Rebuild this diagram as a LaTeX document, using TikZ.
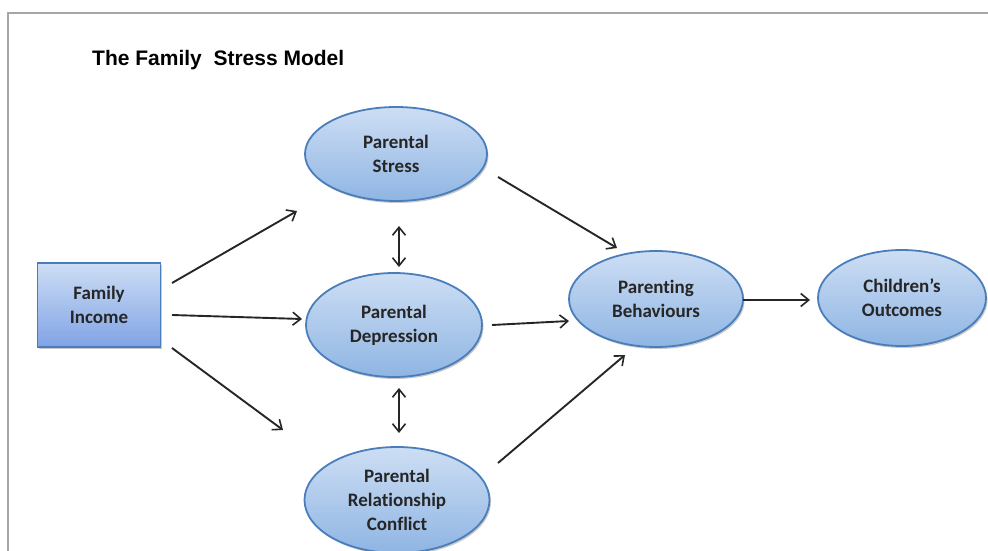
\documentclass[tikz,border=0pt]{standalone}
\usepackage{fontspec}
\setmainfont[RawFeature=-liga]{Carlito}
\newfontfamily\ttlfont{Liberation Sans}
\usepackage{tikz}
\usetikzlibrary{positioning,arrows.meta,shapes.geometric,shadows}
\definecolor{fsline}{HTML}{4A7EBB}
\definecolor{fstop}{HTML}{CDDEF4}
\definecolor{fsbot}{HTML}{8FB5E3}
\definecolor{fsarrow}{HTML}{262626}
\definecolor{fsframe}{HTML}{A6A6A6}
\tikzset{
  >={Straight Barb[length=8pt,width=13pt,line width=1.6pt]},
  fsshadow/.style={drop shadow={shadow xshift=1.5pt,shadow yshift=-2pt,
    opacity=0.3,fill=black!70}},
  factor/.style={ellipse,draw=fsline,line width=1.8pt,top color=fstop,
    bottom color=fsbot,inner sep=0pt,align=center,fsshadow,
    font=\bfseries\fontsize{19}{24}\selectfont,text=black!85},
  incbox/.style={rectangle,draw=fsline,line width=1.8pt,top color=fstop,
    bottom color=fsbot!90!blue,inner sep=0pt,align=center,fsshadow,
    minimum width=123pt,minimum height=84pt,
    font=\bfseries\fontsize{19}{24}\selectfont,text=black!85},
  flow/.style={->,line width=1.9pt,draw=fsarrow},
  biflow/.style={<->,line width=1.9pt,draw=fsarrow},
  ttl/.style={font=\ttlfont\bfseries\fontsize{21}{24}\selectfont,anchor=west,
    inner sep=0pt},
}
\begin{document}
\begin{tikzpicture}[x=1pt,y=-1pt]
  \useasboundingbox (0,0) rectangle (988,551);
  % frame of the page
  \draw[fsframe,line width=1.4pt] (988,13) -- (8,13) -- (8,551);
  \node[ttl] (title) at (92,60) {The Family\ \ Stress Model};

  \node[incbox] (fi) at (99,305) {Family\\Income};
  \node[factor,minimum width=182pt,minimum height=94pt] (ps) at (396,154) {Parental\\Stress};
  \node[factor,minimum width=176pt,minimum height=104pt] (pd) at (394,325) {Parental\\Depression};
  \node[factor,minimum width=185pt,minimum height=106pt] (pc) at (397,500) {Parental\\Relationship\\Conflict};
  \node[factor,minimum width=174pt,minimum height=96pt] (pb) at (656,299) {Parenting\\Behaviours};
  \node[factor,minimum width=168pt,minimum height=96pt] (co) at (902,298) {Children’s\\Outcomes};

  % income to the three parental factors
  \draw[flow] ([shift={(73,-22)}]fi.center) -- ([shift={(-99,57)}]ps.center);
  \draw[flow] ([shift={(73,10)}]fi.center) -- ([shift={(-92,-6)}]pd.center);
  \draw[flow] ([shift={(73,43)}]fi.center) -- ([shift={(-114,-70)}]pc.center);
  % links between factors
  \draw[biflow] ([shift={(3,72)}]ps.center) -- ([shift={(5,-58)}]pd.center);
  \draw[biflow] ([shift={(5,63)}]pd.center) -- ([shift={(2,-67)}]pc.center);
  % factors to parenting
  \draw[flow] ([shift={(102,23)}]ps.center) -- ([shift={(-39,-51)}]pb.center);
  \draw[flow] ([shift={(98,0)}]pd.center) -- ([shift={(-87,22)}]pb.center);
  \draw[flow] ([shift={(101,-37)}]pc.center) -- ([shift={(-31,56)}]pb.center);
  \draw[flow] ([shift={(87,1)}]pb.center) -- ([shift={(-92,2)}]co.center);
\end{tikzpicture}
\end{document}
